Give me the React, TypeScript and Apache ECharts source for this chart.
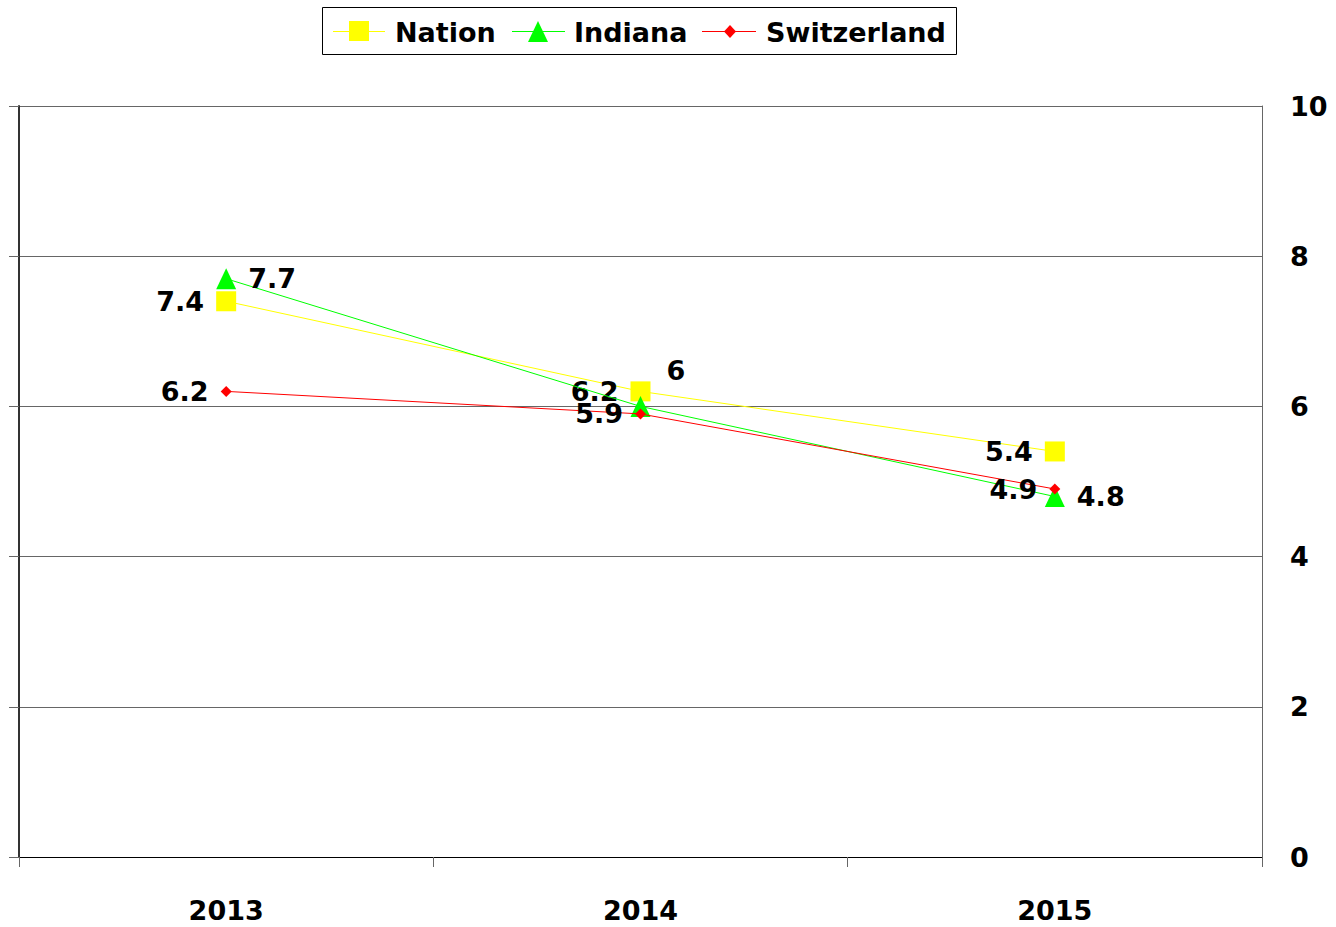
import React, { useEffect, useRef } from "react";
import * as echarts from "echarts";

const years = ["2013", "2014", "2015"];
const nation = [7.4, 6.2, 5.4];
const indiana = [7.7, 6, 4.8];
const switzerland = [6.2, 5.9, 4.9];
const yTicks = { min: 0, max: 10, interval: 2 };

const FONT = "'DejaVu Sans', sans-serif";

export default function App() {
  const ref = useRef<HTMLDivElement>(null);
  useEffect(() => {
    if (!ref.current) return;
    const chart = echarts.init(ref.current, null, { renderer: "svg" });
    const labelBase = {
      show: true,
      color: "#000",
      fontFamily: FONT,
      fontWeight: "bold" as const,
      fontSize: 27,
      distance: 12,
    };
    const legendFont = "bold 27px 'DejaVu Sans', sans-serif";
    chart.setOption({
      animation: false,
      backgroundColor: "#fff",
      grid: { left: 19, right: 74, top: 106, bottom: 70 },
      xAxis: {
        type: "category",
        data: years,
        boundaryGap: true,
        axisLine: { show: true, lineStyle: { color: "#000", width: 1 } },
        axisTick: { show: true, length: 10, lineStyle: { color: "#666" } },
        axisLabel: {
          margin: 40,
          color: "#000",
          fontFamily: FONT,
          fontWeight: "bold",
          fontSize: 27,
        },
        splitLine: { show: false },
      },
      yAxis: [
        {
          type: "value",
          position: "right",
          min: yTicks.min,
          max: yTicks.max,
          interval: yTicks.interval,
          axisLine: { show: true, lineStyle: { color: "#666", width: 1 } },
          axisTick: { show: false },
          axisLabel: {
            margin: 28,
            color: "#000",
            fontFamily: FONT,
            fontWeight: "bold",
            fontSize: 27,
          },
          splitLine: { show: true, lineStyle: { color: "#666", width: 1 } },
        },
        {
          type: "value",
          position: "left",
          min: yTicks.min,
          max: yTicks.max,
          interval: yTicks.interval,
          axisLine: { show: true, lineStyle: { color: "#333", width: 2 } },
          axisTick: { show: true, length: 10, lineStyle: { color: "#666" } },
          axisLabel: { show: false },
          splitLine: { show: false },
        },
      ],
      series: [
        {
          name: "Nation",
          type: "line",
          yAxisIndex: 0,
          data: nation,
          symbol: "rect",
          symbolSize: 20,
          lineStyle: { color: "#FFFF00", width: 1 },
          itemStyle: { color: "#FFFF00" },
          label: { ...labelBase, position: "left" },
          z: 2,
        },
        {
          name: "Indiana",
          type: "line",
          yAxisIndex: 0,
          data: indiana.map((v, i) =>
            i === 1 ? { value: v, label: { offset: [4, -36] } } : v
          ),
          symbol: "triangle",
          symbolSize: [20, 21],
          lineStyle: { color: "#00FF00", width: 1 },
          itemStyle: { color: "#00FF00" },
          label: { ...labelBase, position: "right" },
          z: 3,
        },
        {
          name: "Switzerland",
          type: "line",
          yAxisIndex: 0,
          data: switzerland,
          symbol: "diamond",
          symbolSize: 11,
          lineStyle: { color: "#FF0000", width: 1 },
          itemStyle: { color: "#FF0000" },
          label: { ...labelBase, position: "left" },
          z: 4,
        },
      ],
      graphic: [
        {
          type: "rect",
          shape: { x: 322.5, y: 7.5, width: 634, height: 47 },
          style: { fill: "#fff", stroke: "#000", lineWidth: 1 },
        },
        {
          type: "line",
          shape: { x1: 333, y1: 31.5, x2: 385, y2: 31.5 },
          style: { stroke: "#FFFF00", lineWidth: 1 },
        },
        {
          type: "rect",
          shape: { x: 349, y: 21, width: 20, height: 20 },
          style: { fill: "#FFFF00" },
        },
        {
          type: "text",
          x: 395,
          y: 32,
          style: { text: "Nation", font: legendFont, fill: "#000", verticalAlign: "middle" },
        },
        {
          type: "line",
          shape: { x1: 512, y1: 31.5, x2: 565, y2: 31.5 },
          style: { stroke: "#00FF00", lineWidth: 1 },
        },
        {
          type: "polygon",
          shape: { points: [[538, 21], [548, 42], [528, 42]] },
          style: { fill: "#00FF00" },
        },
        {
          type: "text",
          x: 574,
          y: 32,
          style: { text: "Indiana", font: legendFont, fill: "#000", verticalAlign: "middle" },
        },
        {
          type: "line",
          shape: { x1: 702, y1: 31.5, x2: 756, y2: 31.5 },
          style: { stroke: "#FF0000", lineWidth: 1 },
        },
        {
          type: "polygon",
          shape: { points: [[730, 25], [736, 31.5], [730, 38], [724, 31.5]] },
          style: { fill: "#FF0000" },
        },
        {
          type: "text",
          x: 766,
          y: 32,
          style: { text: "Switzerland", font: legendFont, fill: "#000", verticalAlign: "middle" },
        },
      ],
    });
    return () => chart.dispose();
  }, []);
  return (
    <div
      ref={ref}
      style={{ position: "absolute", left: 0, top: 0, width: 1336, height: 927 }}
    />
  );
}
